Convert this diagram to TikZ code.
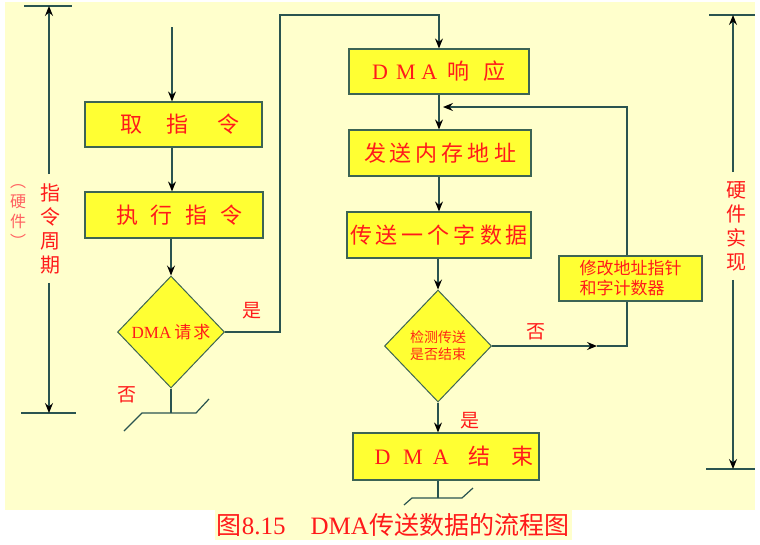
\documentclass[tikz,border=0pt]{standalone}
\usepackage{fontspec}
\setmainfont{Liberation Serif}
\newfontfamily\cjk{Noto Sans CJK SC}
\newfontfamily\lat{Liberation Serif}
\usetikzlibrary{shapes.geometric,arrows.meta}
\definecolor{bgy}{HTML}{FFFFCC}
\definecolor{boxy}{HTML}{FFFF33}
\definecolor{lnc}{HTML}{2A5450}
\definecolor{bdc}{HTML}{3C6454}
\definecolor{rd}{HTML}{FF1A1A}
\definecolor{rdl}{HTML}{FF6060}
\begin{document}
\begin{tikzpicture}[x=1pt,y=-1pt,
  box/.style={draw=bdc, line width=1.2pt, fill=boxy, inner sep=0pt, text=rd,
    font=\cjk\fontsize{22}{26}\selectfont},
  dia/.style={diamond, draw=bdc, line width=1pt, fill=boxy, inner sep=0pt,
    minimum width=107pt, minimum height=112pt, text=rd, align=center},
  wire/.style={draw=lnc, line width=1.2pt},
  arr/.style={wire, -{Stealth[length=10pt,width=8pt,inset=3.5pt,color=black]}},
  lbl/.style={text=rd, inner sep=0pt, font=\cjk\fontsize{19}{22}\selectfont},
  vlbl/.style={text=rd, align=center, inner xsep=0pt, inner ysep=9pt,
    font=\cjk\fontsize{20}{24}\selectfont}
]
\useasboundingbox (0,0) rectangle (760,544);
% backgrounds
\fill[bgy] (5,2) rectangle (755,510);
\fill[bgy] (215,510) rectangle (572,540);

% left column
\node[box, minimum width=177pt, minimum height=45pt] (fetch) at (173.5,124.5)
  {\hspace*{13pt}取\kern24pt 指\kern29pt 令};
\node[box, minimum width=178pt, minimum height=46pt] (exec) at (174,215)
  {\hspace*{11pt}执\kern13pt 行\kern13pt 指\kern13pt 令};
\node[dia] (req) at (171,332)
  {\fontsize{17}{20}\selectfont{\lat DMA}\kern3pt{\cjk 请\kern2pt 求}};

% right column
\node[box, minimum width=180pt, minimum height=45pt] (resp) at (439,71.5)
  {{\lat D}\kern8.2pt{\lat M}\kern5.7pt{\lat A}\kern10.5pt 响\kern14pt 应};
\node[box, minimum width=182pt, minimum height=46pt] (addr) at (440,153)
  {发\kern4pt 送\kern4pt 内\kern4pt 存\kern4pt 地\kern4pt 址};
\node[box, minimum width=184pt, minimum height=46pt] (data) at (439,235)
  {传\kern4pt 送\kern4pt 一\kern4pt 个\kern4pt 字\kern4pt 数\kern4pt 据};
\node[dia, text=rd!85!orange, font=\cjk\fontsize{14}{17}\selectfont] (chk) at (438,346)
  {检测传送\\是否结束};
\node[box, minimum width=143pt, minimum height=45pt, align=left,
  font=\cjk\fontsize{17}{20}\selectfont] (mod) at (630.5,278.5)
  {修改地址指针\\和字计数器};
\node[box, minimum width=186pt, minimum height=47pt] (fin) at (446,456.5)
  {\hspace*{16pt}{\lat D}\kern12.7pt{\lat M}\kern10.2pt{\lat A}\kern19.5pt 结\kern21pt 束};

% helper coordinates
\coordinate (entry) at (172,27);
\coordinate (yes1) at (280,15);
\coordinate (nob1) at (171,413);
\coordinate (fbx) at (627,346);
\coordinate (fbarr) at (597,346);
\coordinate (fbt) at (627,107);
\coordinate (fbend) at (443,107);
\coordinate (finb) at (438,498);

% connectors left
\draw[arr] (entry) -- (entry |- fetch.north);
\draw[arr] (entry |- fetch.south) -- (entry |- exec.north);
\draw[arr] (req.north |- exec.south) -- (req.north);
\draw[arr] (req.east) -| (yes1) -| (resp.north);
\draw[wire] (req.south) -- (nob1);
\draw[wire] (124,431) -- (142,413) -- (196,413) -- (209,399);

% connectors right
\draw[arr] (resp.south) -- (resp.south |- addr.north);
\draw[arr] (addr.south -| resp.south) -- (resp.south |- data.north);
\draw[arr] (data.south -| chk.north) -- (chk.north);
\draw[arr] (chk.south) -- (chk.south |- fin.north);
\draw[arr] (chk.east) -- (fbarr);
\draw[wire] (fbarr) -- (fbx) -- (fbx |- mod.south);
\draw[arr] (fbx |- mod.north) -- (fbt) -- (fbend);
\draw[wire] (fin.south -| finb) -- (finb);
\draw[wire] (404,505) -- (412,498) -- (462,498) -- (473,488);

% branch labels
\node[lbl] (yesA) at (252,311) {是};
\node[lbl] (noA) at (126.5,395) {否};
\node[lbl] (noB) at (535.5,331.5) {否};
\node[lbl] (yesB) at (470,421) {是};

% left bracket
\node[vlbl] (cyc) at (50,228.5) {指\\令\\周\\期};
\node[text=rdl, align=center, inner sep=0pt,
  font=\cjk\fontsize{16}{20}\selectfont] (hw) at (18,216) {︵\\硬\\件\\︶};
\coordinate (ltop) at (49,6);
\coordinate (lbot) at (49,413);
\draw[wire] (24,6) -- (72,6);
\draw[wire] (21,413) -- (76,413);
\draw[arr] (cyc.north -| ltop) -- (ltop);
\draw[arr] (cyc.south -| ltop) -- (lbot);

% right bracket
\node[vlbl] (hwr) at (736,226) {硬\\件\\实\\现};
\coordinate (rtop) at (733,15);
\coordinate (rbot) at (733,469);
\draw[wire] (709,15) -- (755,15);
\draw[wire] (706,469) -- (755,469);
\draw[arr] (hwr.north -| rtop) -- (rtop);
\draw[arr] (hwr.south -| rtop) -- (rbot);

% caption
\node[text=rd, inner sep=0pt, font=\fontsize{25}{28}\selectfont] (cap) at (393,525)
  {{\cjk 图}{\lat 8.15}\hspace{25pt}{\lat DMA}{\cjk 传送数据的流程图}};
\end{tikzpicture}
\end{document}
